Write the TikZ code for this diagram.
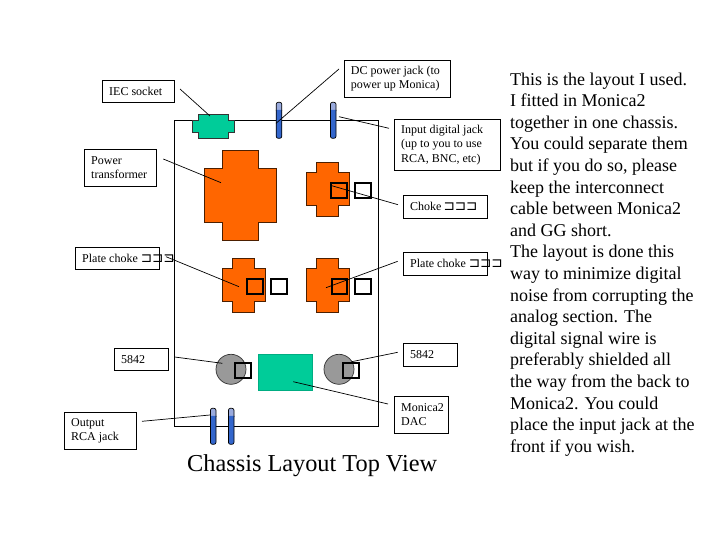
\documentclass[tikz,border=0pt]{standalone}
\usepackage{fontspec}
\setmainfont{Liberation Serif}
\newfontfamily\symf{DejaVu Sans}
\definecolor{org}{RGB}{255,102,0}
\definecolor{teal1}{RGB}{0,204,153}
\definecolor{jackblue}{RGB}{51,102,204}
\definecolor{jacklight}{RGB}{153,170,221}
\newcommand{\tofu}{{\fontsize{13.5}{14.4}\symf ⊐⊐⊐}}
\tikzset{
 lbl/.style={draw=black,line width=0.7pt,fill=white},
 lbltext/.style={font=\fontsize{12}{14.4}\selectfont,align=left,inner sep=0pt,anchor=west},
 leader/.style={draw=black,line width=0.7pt},
 part/.style={draw=black!70!org,line width=0.8pt,fill=org},
 tealpart/.style={draw=black!80,line width=0.8pt,fill=teal1},
 tubepart/.style={circle,draw=black!80,line width=0.7pt,fill=black!40,minimum size=30pt,inner sep=0pt},
 tofubox/.style={draw=black,line width=2pt,minimum width=15.5pt,minimum height=15.5pt,inner sep=0pt,fill=none},
}
\newcommand{\lab}[6]{% name, x1,y1,x2,y2,text
 \path[lbl] (#2,#3) rectangle (#4,#5);
 \node[lbltext] (#1) at (#2+6.7,{(#3+#5)/2}) {#6};
}
\newcommand{\chokeshape}[2]{% x,y of top-left bbox
 \draw[part] (#1+10,#2) -- (#1+32,#2) -- (#1+32,#2+10) -- (#1+43,#2+10) -- (#1+43,#2+43.5) -- (#1+32,#2+43.5) -- (#1+32,#2+54) -- (#1+10,#2+54) -- (#1+10,#2+43.5) -- (#1,#2+43.5) -- (#1,#2+10) -- (#1+10,#2+10) -- cycle;
}
\newcommand{\jack}[3]{% name,x,y top
 \draw[black,line width=0.7pt,fill=jacklight,rounded corners=2pt] (#2,#3) rectangle (#2+5.6,#3+10);
 \draw[black,line width=0.7pt,fill=jackblue,rounded corners=2pt] (#2,#3+7.5) -- (#2,#3+36) -- (#2+5.6,#3+36) -- (#2+5.6,#3+7.5);
 \coordinate (#1) at (#2+2.8,#3+18);
}
\begin{document}
\begin{tikzpicture}[x=1pt,y=-1pt]
\useasboundingbox (0,0) rectangle (720,540);
% chassis
\draw[black,line width=0.8pt] (174.7,120.3) rectangle (378.3,426.3);
% IEC socket
\draw[tealpart] (198.3,114.3) -- (228.3,114.3) -- (228.3,120.3) -- (234.3,120.3) -- (234.3,132.3) -- (228.3,132.3) -- (228.3,138.3) -- (198.3,138.3) -- (198.3,132.3) -- (192.3,132.3) -- (192.3,120.3) -- (198.3,120.3) -- cycle;
% transformer
\draw[part] (222.3,150.3) -- (258.3,150.3) -- (258.3,168.3) -- (276.3,168.3) -- (276.3,222.3) -- (258.3,222.3) -- (258.3,240.3) -- (222.3,240.3) -- (222.3,222.3) -- (204.3,222.3) -- (204.3,168.3) -- (222.3,168.3) -- cycle;
% chokes
\chokeshape{306}{162.3}
\chokeshape{222}{258.3}
\chokeshape{306}{258.3}
% tubes
\node[tubepart] (tubeL) at (231,369.3) {};
\node[tubepart] (tubeR) at (339,369.3) {};
% DAC
\node[rectangle,fill=teal1,draw=teal1!85!black,line width=0.5pt,minimum width=54pt,minimum height=36.4pt,inner sep=0pt] (dac) at (285.3,372.5) {};
% jacks
\jack{jDC}{276.2}{102.3}
\jack{jIn}{330.4}{102.3}
\jack{jOutA}{210.4}{408.3}
\jack{jOutB}{228.4}{408.3}
% large boxes
\node[tofubox] (b1) at (339.2,190.4) {};
\node[tofubox] (b2) at (362.9,190.4) {};
\node[tofubox] (b3) at (255,286.5) {};
\node[tofubox] (b4) at (279,286.5) {};
\node[tofubox] (b5) at (339.4,286.5) {};
\node[tofubox] (b6) at (363,286.5) {};
\node[tofubox] (b7) at (243.2,370.3) {};
\node[tofubox] (b8) at (351,370.3) {};
% labels
\lab{lIEC}{102.3}{80.3}{174.7}{102.3}{IEC socket}
\lab{lPow}{84.3}{149}{156.7}{186.3}{Power\\transformer}
\lab{lDC}{344}{60.3}{450.3}{97.3}{DC power jack (to\\power up Monica)}
\lab{lIn}{394.3}{119.3}{500}{170.3}{Input digital jack\\(up to you to use\\RCA, BNC, etc)}
\lab{lCh}{403.3}{195.3}{487.3}{218.3}{Choke\,\tofu}
\lab{lPL}{75.3}{247.3}{159.3}{269.3}{Plate choke \tofu}
\lab{lPR}{403.3}{252.3}{487.3}{275.3}{Plate choke \tofu}
\lab{l58L}{114.3}{348.3}{168.7}{370.3}{5842}
\lab{l58R}{403.3}{343.3}{457.3}{366.3}{5842}
\lab{lDAC}{394.3}{396.3}{448.3}{433.3}{Monica2\\DAC}
\lab{lOut}{64.3}{412.3}{136.7}{449.3}{Output\\RCA jack}
% leader ends
\coordinate (eIEC) at (180,89); \coordinate (fIEC) at (210,116);
\coordinate (ePow) at (163.3,159); \coordinate (fPow) at (221,182.7);
\coordinate (eDC) at (339,69); \coordinate (fDC) at (276,123.3);
\coordinate (eIn) at (389,128.3); \coordinate (fIn) at (339,116.7);
\coordinate (eCh) at (398,204.7); \coordinate (fCh) at (331.7,185.7);
\coordinate (ePL) at (166,256.7); \coordinate (fPL) at (239,286.7);
\coordinate (ePR) at (397.7,261.3); \coordinate (fPR) at (326,287.7);
\coordinate (e5L) at (174.7,357); \coordinate (f5L) at (222.3,363.3);
\coordinate (e5R) at (397.7,352.3); \coordinate (f5R) at (351.7,361.7);
\coordinate (eDAC) at (388,404); \coordinate (fDAC) at (293.3,381.7);
\coordinate (eOut) at (142,421.3); \coordinate (fOut) at (210,415);
\foreach \a/\b in {eIEC/fIEC,ePow/fPow,eDC/fDC,eIn/fIn,eCh/fCh,ePL/fPL,ePR/fPR,e5L/f5L,e5R/f5R,eDAC/fDAC,eOut/fOut}
 \draw[leader] (\a) -- (\b);
% title
\node[font=\fontsize{24.3}{28}\selectfont,inner sep=0pt,anchor=base west] (title) at (187,471) {Chassis Layout Top View};
% body text
\node[font=\fontsize{18}{21.6}\selectfont,align=left,inner sep=0pt,anchor=north west] (body) at (510,72.5) {This is the layout I used.\\I fitted in Monica2\\together in one chassis.\\You could separate them\\but if you do so, please\\keep the interconnect\\cable between Monica2\\and GG short.\\The layout is done this\\way to minimize digital\\noise from corrupting the\\analog section. The\\digital signal wire is\\preferably shielded all\\the way from the back to\\Monica2. You could\\place the input jack at the\\front if you wish.};
\end{tikzpicture}
\end{document}
